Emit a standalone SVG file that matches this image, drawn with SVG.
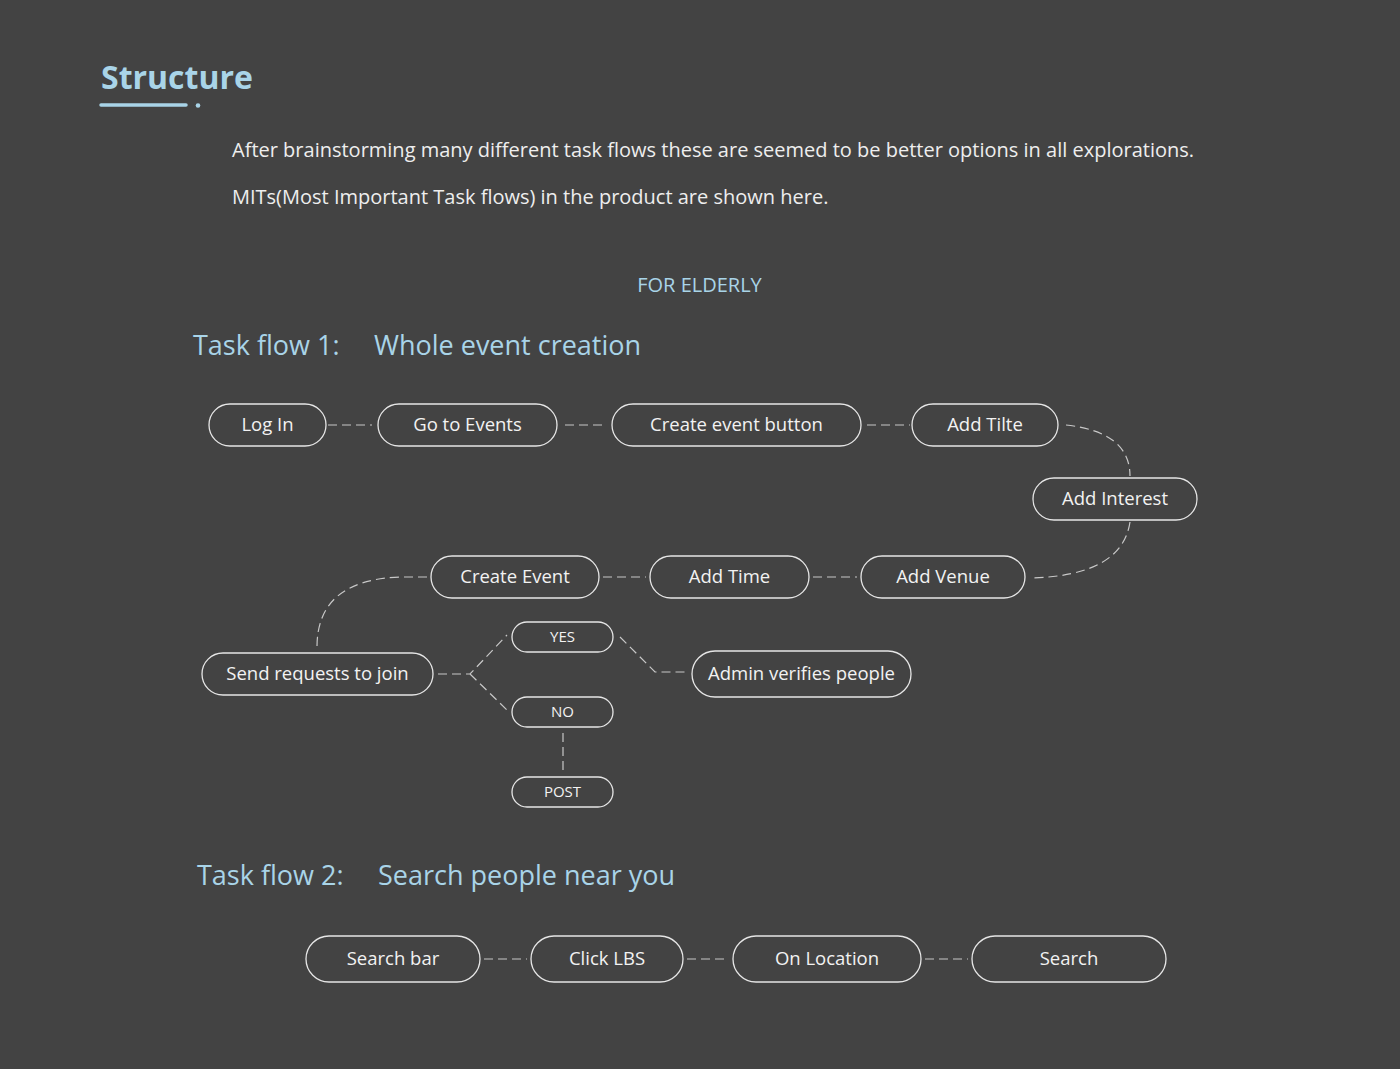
<svg xmlns="http://www.w3.org/2000/svg" width="1400" height="1069" viewBox="0 0 1400 1069">
<style>
text{font-family:"Open Sans","Noto Sans","Liberation Sans",sans-serif}
.n rect{fill:none;stroke:#e6e6e6;stroke-width:1.3}
.n text{fill:#f2f2f2;font-size:18.5px;text-anchor:middle}
.s text{font-size:15px}
.c path{fill:none;stroke:#c8c8c8;stroke-width:1.2;stroke-dasharray:9 5}
.h{fill:#a9d4e8}
.p{fill:#eeeeee;font-size:20px}
.t{fill:#a9d4e8;font-size:27px}
</style>
<rect width="1400" height="1069" fill="#434343"/>
<text class="h" x="101" y="89" font-size="32" font-weight="bold">Structure</text>
<line x1="101" y1="105" x2="186" y2="105" stroke="#a9d4e8" stroke-width="3.5" stroke-linecap="round"/>
<circle cx="198" cy="105.5" r="2.3" fill="#a9d4e8"/>
<text class="p" x="232" y="157">After brainstorming many different task flows these are seemed to be better options in all explorations.</text>
<text class="p" x="232" y="204">MITs(Most Important Task flows) in the product are shown here.</text>
<text class="h" x="699.5" y="292" font-size="20" text-anchor="middle">FOR ELDERLY</text>
<text class="t" x="193" y="355">Task flow 1:</text>
<text class="t" x="374" y="355">Whole event creation</text>
<text class="t" x="197" y="885">Task flow 2:</text>
<text class="t" x="378" y="885">Search people near you</text>
<g class="c">
<path d="M328 425H372"/>
<path d="M565 425H606"/>
<path d="M867 425H910"/>
<path d="M1066 425Q1130 432 1130 476"/>
<path d="M1130 522Q1122 576 1030 578"/>
<path d="M813 577H857"/>
<path d="M603 577H646"/>
<path d="M427 577H400Q317 580 317 647"/>
<path d="M438 674H470L507 635M470 674L507 710"/>
<path d="M620 637L655 672H688"/>
<path d="M563 733V773"/>
<path d="M484 959H527"/>
<path d="M687 959H729"/>
<path d="M925 959H968"/>
</g>
<g id="login" class="n"><rect x="209" y="404" width="117" height="42" rx="21"/><text x="267.5" y="431">Log In</text></g>
<g id="goevents" class="n"><rect x="378" y="404" width="179" height="42" rx="21"/><text x="467.5" y="431">Go to Events</text></g>
<g id="createbtn" class="n"><rect x="612" y="404" width="249" height="42" rx="21"/><text x="736.5" y="431">Create event button</text></g>
<g id="addtitle" class="n"><rect x="912" y="404" width="146" height="42" rx="21"/><text x="985" y="431">Add Tilte</text></g>
<g id="addinterest" class="n"><rect x="1033" y="478" width="164" height="42" rx="21"/><text x="1115" y="505">Add Interest</text></g>
<g id="createevent" class="n"><rect x="431" y="556" width="168" height="42" rx="21"/><text x="515" y="583">Create Event</text></g>
<g id="addtime" class="n"><rect x="650" y="556" width="159" height="42" rx="21"/><text x="729.5" y="583">Add Time</text></g>
<g id="addvenue" class="n"><rect x="861" y="556" width="164" height="42" rx="21"/><text x="943" y="583">Add Venue</text></g>
<g id="sendreq" class="n"><rect x="202" y="653" width="231" height="42" rx="21"/><text x="317.5" y="680">Send requests to join</text></g>
<g id="yes" class="n s"><rect x="512" y="622" width="101" height="30" rx="15"/><text x="562.5" y="642">YES</text></g>
<g id="no" class="n s"><rect x="512" y="697" width="101" height="30" rx="15"/><text x="562.5" y="717">NO</text></g>
<g id="post" class="n s"><rect x="512" y="777" width="101" height="30" rx="15"/><text x="562.5" y="797">POST</text></g>
<g id="admin" class="n"><rect x="692" y="651" width="219" height="46" rx="23"/><text x="801.5" y="680">Admin verifies people</text></g>
<g id="searchbar" class="n"><rect x="306" y="936" width="174" height="46" rx="23"/><text x="393" y="965">Search bar</text></g>
<g id="clicklbs" class="n"><rect x="531" y="936" width="152" height="46" rx="23"/><text x="607" y="965">Click LBS</text></g>
<g id="onlocation" class="n"><rect x="733" y="936" width="188" height="46" rx="23"/><text x="827" y="965">On Location</text></g>
<g id="search" class="n"><rect x="972" y="936" width="194" height="46" rx="23"/><text x="1069" y="965">Search</text></g>
</svg>
